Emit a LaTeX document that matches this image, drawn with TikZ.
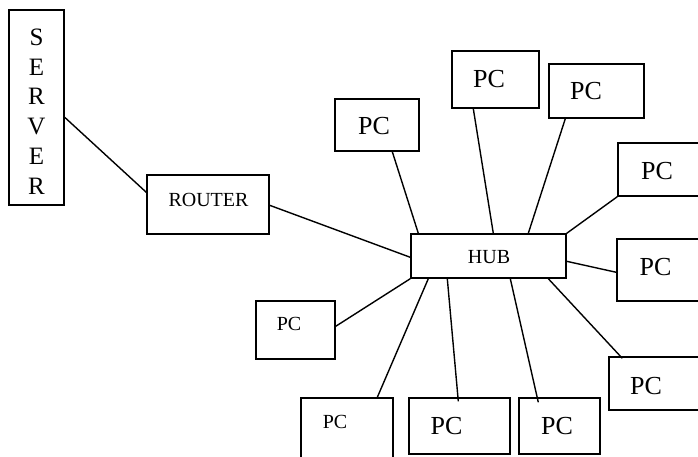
\documentclass[tikz,border=0pt]{standalone}
\usepackage{fontspec}
\setmainfont{Liberation Serif}
\usetikzlibrary{calc}
\tikzset{
  box/.style={draw, line width=1.4pt, inner sep=0pt},
  wire/.style={line width=1.4pt},
  bigtxt/.style={font=\fontsize{26}{30}\selectfont, inner sep=0pt},
  smalltxt/.style={font=\fontsize{20}{24}\selectfont, inner sep=0pt}
}
\begin{document}
\begin{tikzpicture}[x=1pt,y=-1pt]
\clip (0,0) rectangle (698,456);
\fill[white] (0,0) rectangle (698,456);
% boxes
\node[box, minimum width=55pt, minimum height=195pt] (server) at (36.5,107.5) {};
\node[box, minimum width=122pt, minimum height=59pt] (router) at (208,204.5) {};
\node[box, minimum width=155pt, minimum height=44pt] (hub) at (488.5,256) {};
\node[box, minimum width=84pt, minimum height=52pt] (pca) at (377,125) {};
\node[box, minimum width=87pt, minimum height=57pt] (pcb) at (495.5,79.5) {};
\node[box, minimum width=95pt, minimum height=54pt] (pcc) at (596.5,91) {};
\node[box, minimum width=102pt, minimum height=53pt] (pcd) at (669,169.5) {};
\node[box, minimum width=103pt, minimum height=62pt] (pce) at (668.5,270) {};
\node[box, minimum width=111pt, minimum height=53pt] (pcf) at (664.5,383.5) {};
\node[box, minimum width=79pt, minimum height=58pt] (pcg) at (295.5,330) {};
\node[box, minimum width=92pt, minimum height=72pt] (pch) at (347,434) {};
\node[box, minimum width=101pt, minimum height=56pt] (pci) at (459.5,426) {};
\node[box, minimum width=81pt, minimum height=56pt] (pcj) at (559.5,426) {};
% texts
\node[inner sep=0pt, align=center, font=\fontsize{25}{29.7}\selectfont] (tserver) at (36.5,111.5) {S\\E\\R\\V\\E\\R};
\node[smalltxt] (trouter) at (208.5,200) {ROUTER};
\node[smalltxt] (thub) at (489,257) {HUB};
\node[bigtxt] (tpca) at (374,126) {PC};
\node[bigtxt] (tpcb) at (489,79) {PC};
\node[bigtxt] (tpcc) at (586,91.5) {PC};
\node[bigtxt] (tpcd) at (657,171) {PC};
\node[bigtxt] (tpce) at (655.5,267) {PC};
\node[bigtxt] (tpcf) at (646,386) {PC};
\node[smalltxt] (tpcg) at (289,324) {PC};
\node[smalltxt] (tpch) at (335,422) {PC};
\node[bigtxt] (tpci) at (446.5,426) {PC};
\node[bigtxt] (tpcj) at (557,426) {PC};
% connectors
\draw[wire] ($(server.north east)+(0,108)$) -- ($(router.north west)+(0,18)$);
\draw[wire] ($(router.north east)+(0,31)$) -- ($(hub.north west)+(0,24)$);
\draw[wire] ($(pca.south west)+(58,0)$) -- ($(hub.north west)+(8,0)$);
\draw[wire] ($(pcb.south west)+(22,0)$) -- ($(hub.north west)+(83,0)$);
\draw[wire] ($(pcc.south west)+(17,0)$) -- ($(hub.north west)+(118,0)$);
\draw[wire] (pcd.south west) -- (hub.north east);
\draw[wire] ($(hub.north east)+(0,28)$) -- ($(pce.north west)+(0,34)$);
\draw[wire] (hub.south west) -- ($(pcg.north east)+(0,26)$);
\draw[wire] ($(hub.south west)+(18,0)$) -- ($(pch.north west)+(77,0)$);
\draw[wire] ($(hub.south west)+(37,0)$) -- ($(pci.north west)+(50,4)$);
\draw[wire] ($(hub.south west)+(100,0)$) -- ($(pcj.north west)+(20,5)$);
\draw[wire] ($(hub.south west)+(138,0)$) -- ($(pcf.north west)+(14,2)$);
\end{tikzpicture}
\end{document}
